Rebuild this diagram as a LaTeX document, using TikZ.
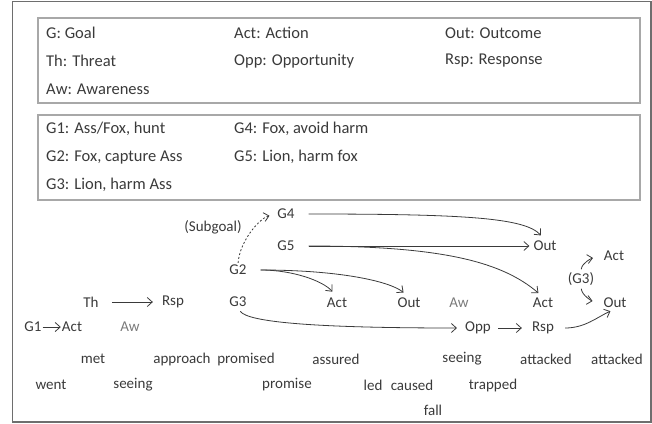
\documentclass[tikz,border=0pt]{standalone}
\usepackage{fontspec}
\setmainfont{Carlito}
\usetikzlibrary{positioning, arrows.meta}
\definecolor{inkgray}{HTML}{3A3A3A}
\definecolor{awgray}{HTML}{7A7A7A}
\definecolor{boxgray}{HTML}{A8A8A8}
\definecolor{framegray}{HTML}{6E6E6E}
\tikzset{>={Straight Barb[length=5pt,width=9pt]}}

\begin{document}
\begin{tikzpicture}[x=1pt, y=-1pt, on grid,
    lbl/.style={text=inkgray, font=\fontsize{15}{18}\selectfont, inner sep=1pt},
    faint/.style={lbl, text=awgray},
    keytext/.style={text=inkgray, font=\fontsize{16.5}{20}\selectfont, anchor=west, inner sep=0pt},
    legendbox/.style={draw=boxgray, line width=1.3pt},
    link/.style={->, draw=inkgray, line width=0.8pt}]

  \useasboundingbox (0,0) rectangle (652,423);
  \draw[framegray, line width=1.4pt] (12.7,1.2) rectangle (650.8,421.8);

  % legend
  \draw[legendbox] (38,18) rectangle (640,103);
  \draw[legendbox] (38,115) rectangle (640,200);
  \node[keytext] (kg)   at (46,33)  {G: Goal};
  \node[keytext] (kact) at (234,33) {Act: Action};
  \node[keytext] (kout) at (445,33) {Out: Outcome};
  \node[keytext] (kth)  at (46,61)  {Th: Threat};
  \node[keytext] (kopp) at (234,61) {Opp: Opportunity};
  \node[keytext] (krsp) at (445,61) {Rsp: Response};
  \node[keytext] (kaw)  at (46,89)  {Aw: Awareness};
  \node[keytext] (kgone)   at (46,129)  {G1: Ass/Fox, hunt};
  \node[keytext] (kgfour)  at (234,129) {G4: Fox, avoid harm};
  \node[keytext] (kgtwo)   at (46,157)  {G2: Fox, capture Ass};
  \node[keytext] (kgfive)  at (234,157) {G5: Lion, harm fox};
  \node[keytext] (kgthree) at (46,185)  {G3: Lion, harm Ass};

  % goals
  \node[lbl] (g4) at (286,214) {G4};
  \node[lbl] (g5) at (286,246) {G5};
  \node[lbl] (g2) at (238,270) {G2};
  \node[lbl] (g3) at (238,302) {G3};
  \node[lbl] (subgoal) at (213,227) {(Subgoal)};

  \node[lbl] (th) at (91,302) {Th};
  \node[lbl] (rspA) [right=82pt of th] {Rsp};
  \node[lbl] (g1) at (33,327) {G1};
  \node[lbl] (actA) at (72,327) {Act};
  \node[faint] (awA) at (130,327) {Aw};

  \node[lbl] (actB) at (337,303) {Act};
  \node[lbl] (outB) at (409,303) {Out};
  \node[faint] (awB) at (459,303) {Aw};
  \node[lbl] (actC) at (543,303) {Act};
  \node[lbl] (outC) at (545,246) {Out};
  \node[lbl] (actD) at (614,256) {Act};
  \node[lbl] (gthree) at (581,279) {(G3)};
  \node[lbl] (outD) at (615,303) {Out};
  \node[lbl] (opp) at (478,328) {Opp};
  \node[lbl] (rspB) [right=65pt of opp] {Rsp};

  % story words
  \node[lbl] (met)       at (93,359)  {met};
  \node[lbl] (approach)  at (182,359) {approach};
  \node[lbl] (promised)  at (246,359) {promised};
  \node[lbl] (assured)   at (336,359) {assured};
  \node[lbl] (seeingB)   at (462,359) {seeing};
  \node[lbl] (attackedA) at (546,359) {attacked};
  \node[lbl] (attackedB) at (617,359) {attacked};
  \node[lbl] (went)      at (51,385)  {went};
  \node[lbl] (seeingA)   at (133,385) {seeing};
  \node[lbl] (promise)   at (287,385) {promise};
  \node[lbl] (led)       at (373,385) {led};
  \node[lbl] (caused)    at (412,385) {caused};
  \node[lbl] (trapped)   at (493,385) {trapped};
  \node[lbl] (fall)      at (433,410) {fall};

  % links
  \draw[link, shorten <=12pt, shorten >=8pt] (th) -- (rspA);
  \draw[link] (g1) -- (actA);
  \draw[link, shorten <=13pt, shorten >=3pt] (g5) -- (outC);
  \draw[link, shorten <=6pt, shorten >=9pt] (opp) -- (rspB);
  \draw[link, dashed, dash pattern=on 2pt off 2pt, shorten <=1pt, shorten >=7pt]
    (g2.north) .. controls +(2,-24) and +(-16,4) .. (g4.west);
  \draw[link, shorten <=13pt, shorten >=6pt]
    (g4.east) .. controls +(170,0) and +(-20,-22) .. (outC.north);
  \draw[link, shorten <=13pt, shorten >=6pt]
    (g5.east) .. controls +(150,0) and +(-40,-34) .. (actC.north);
  \draw[link, shorten <=13pt, shorten >=7pt]
    (g2.east) .. controls +(45,0) and +(-14,-16) .. (actB.north);
  \draw[link, shorten <=13pt, shorten >=7pt]
    (g2.east) .. controls +(90,0) and +(-20,-16) .. (outB.north);
  \draw[link, shorten <=4pt, shorten >=7pt]
    (g3.south) .. controls +(10,14) and +(-150,0) .. (opp.west);
  \draw[link, shorten <=10pt, shorten >=5pt]
    (rspB.east) .. controls +(30,0) and +(-18,8) .. (outD.south);
  \draw[link, shorten <=2pt, shorten >=10pt]
    (gthree.north) .. controls +(1,-9) and +(-10,2) .. (actD.west);
  \draw[link, shorten <=2pt, shorten >=10pt]
    (gthree.south) .. controls +(1,9) and +(-10,-2) .. (outD.west);

\end{tikzpicture}
\end{document}
